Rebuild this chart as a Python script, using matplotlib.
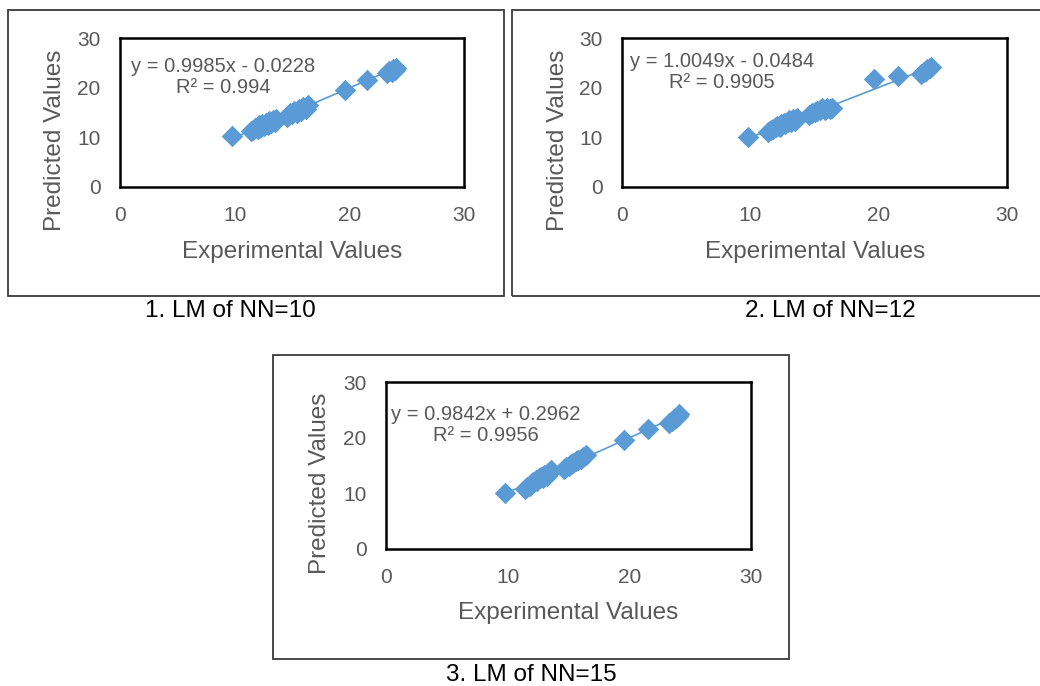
import numpy as np
import matplotlib
matplotlib.use("Agg")
import matplotlib.pyplot as plt
from matplotlib.patches import Rectangle

plt.rcParams['font.family'] = ['Liberation Sans', 'DejaVu Sans']

# experimental values (shared) and predicted values per network
exp_vals = [9.8, 11.4, 11.6, 11.8, 12.0, 12.1, 12.3, 12.4, 12.6, 12.7, 12.9, 13.0,
            13.2, 13.3, 13.5, 13.6, 14.6, 14.8, 15.0, 15.2, 15.4, 15.6, 15.8, 16.0,
            16.2, 16.4, 19.6, 21.5, 23.3, 23.5, 23.7, 23.8, 24.0, 24.1]
pred_nn10 = [10.3, 11.2, 11.5, 11.9, 11.7, 12.4, 12.0, 12.6, 12.2, 12.9, 12.5, 13.2,
             12.8, 13.4, 13.1, 13.6, 14.1, 14.9, 14.7, 15.3, 15.0, 15.8, 15.4, 16.1,
             15.8, 16.5, 19.6, 21.6, 22.9, 23.4, 23.2, 23.8, 23.6, 24.0]
pred_nn12 = [10.1, 11.0, 11.4, 11.7, 12.0, 12.3, 12.1, 12.6, 12.9, 12.7, 13.1, 13.4,
             13.0, 13.6, 13.3, 13.8, 14.5, 14.8, 15.1, 15.4, 15.6, 15.9, 15.5, 16.0,
             15.7, 15.9, 21.7, 22.3, 22.8, 23.1, 23.4, 23.7, 23.9, 24.1]
pred_nn15 = [10.0, 10.8, 11.1, 11.4, 11.8, 12.1, 12.4, 12.2, 12.7, 13.0, 12.8, 13.3,
             13.1, 13.6, 13.9, 14.2, 14.3, 14.7, 14.9, 15.2, 15.5, 15.8, 16.0, 16.2,
             16.5, 16.8, 19.6, 21.5, 22.6, 23.0, 23.3, 23.6, 23.9, 24.2]

slopes = [0.9985, 1.0049, 0.9842]
intercepts = [-0.0228, -0.0484, 0.2962]
r2_vals = ["0.994", "0.9905", "0.9956"]
captions = ["1. LM of NN=10", "2. LM of NN=12", "3. LM of NN=15"]
ticks = [0, 10, 20, 30]

W, H = 1040, 686
fig = plt.figure(figsize=(W / 100, H / 100), dpi=100)
grey = '#595959'
blue = '#5B9BD5'


def px_rect(x0, y0, x1, y1):
    return [x0 / W, 1 - y1 / H, (x1 - x0) / W, (y1 - y0) / H]


# outer box, inner axes box, text positions (pixels)
panels = [
    dict(outer=(8, 10, 504, 296), inner=(120, 38, 464, 187), eq=(223, 77),
         ylab=(55, 140), xlab=(292, 252), cap=(230, 311)),
    dict(outer=(512, 10, 1045, 296), inner=(622, 38, 1007, 187), eq=(722, 72),
         ylab=(558, 140), xlab=(815, 252), cap=(830, 311)),
    dict(outer=(273, 355, 789, 659), inner=(386, 382, 751, 549), eq=(486, 425),
         ylab=(320, 483), xlab=(568, 613), cap=(531, 675)),
]
preds = [pred_nn10, pred_nn12, pred_nn15]

for i, p in enumerate(panels):
    x0, y0, x1, y1 = p['outer']
    fig.add_artist(Rectangle((x0 / W, 1 - y1 / H), (x1 - x0) / W, (y1 - y0) / H,
                             transform=fig.transFigure, fill=False,
                             edgecolor='#3a3a3a', linewidth=1.3))
    ax = fig.add_axes(px_rect(*p['inner']))
    ax.scatter(exp_vals, preds[i], marker='D', s=120, color=blue, zorder=3,
               linewidths=0)
    xs = np.array([min(exp_vals), max(exp_vals)])
    ax.plot(xs, slopes[i] * xs + intercepts[i], color=blue, linewidth=1.2, zorder=2)
    ax.set_xlim(0, 30)
    ax.set_ylim(0, 30)
    ax.set_xticks(ticks)
    ax.set_yticks(ticks)
    ax.tick_params(length=0, labelsize=15, labelcolor=grey, pad=14)
    for s in ax.spines.values():
        s.set_linewidth(1.8)
        s.set_color('black')

    sign = '-' if intercepts[i] < 0 else '+'
    eq = "y = %.4fx %s %.4f\nR² = %s" % (slopes[i], sign, abs(intercepts[i]), r2_vals[i])
    fig.text(p['eq'][0] / W, 1 - p['eq'][1] / H, eq, ha='center', va='center',
             fontsize=14.5, color=grey, linespacing=1.1)
    fig.text(p['ylab'][0] / W, 1 - p['ylab'][1] / H, "Predicted Values", rotation=90,
             ha='center', va='center', fontsize=17.5, color=grey)
    fig.text(p['xlab'][0] / W, 1 - p['xlab'][1] / H, "Experimental Values",
             ha='center', va='center', fontsize=17.5, color=grey)
    fig.text(p['cap'][0] / W, 1 - p['cap'][1] / H, captions[i], ha='center',
             va='center', fontsize=17.5, color='black')

fig.savefig("out.png", dpi=100)
